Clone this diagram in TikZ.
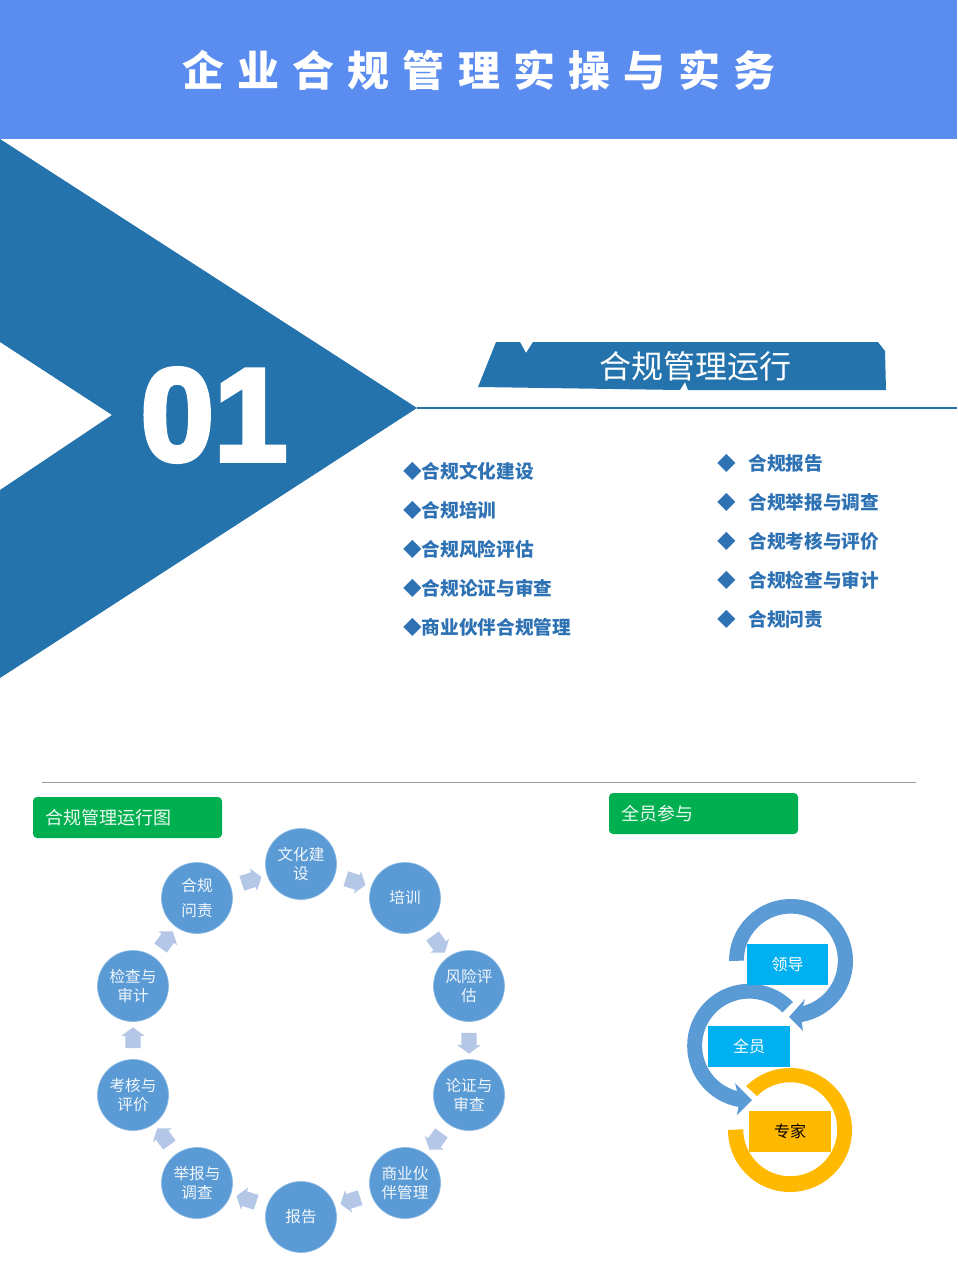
\documentclass[tikz,border=0pt]{standalone}
\usepackage{fontspec}
\usepackage{xcolor}
\usetikzlibrary{shapes.arrows}
\setmainfont{Noto Sans CJK SC}
\newfontfamily\numfont[BoldFeatures={FakeBold=3.5}]{Liberation Sans}
\newfontfamily\headfont[LetterSpace=31]{Noto Sans CJK SC}
\definecolor{headblue}{HTML}{5B8CEF}
\definecolor{deepblue}{HTML}{2473AD}
\definecolor{listblue}{HTML}{2E72B4}
\definecolor{roundblue}{HTML}{5B9BD5}
\definecolor{flowblue}{HTML}{B4C7E7}
\definecolor{okgreen}{HTML}{00B050}
\definecolor{skyblue}{HTML}{00B0F0}
\definecolor{amber}{HTML}{FFB900}
\tikzset{
	itemtext/.style={anchor=west,inner sep=0pt,text=listblue,font=\fontsize{14}{17}\selectfont\bfseries},
	roundbox/.style={circle,fill=roundblue,draw=roundblue!70!white,line width=0.5pt,minimum size=53.25pt,inner sep=0pt,align=center,text=white!92!roundblue,font=\fontsize{11.7}{14}\selectfont},
	flowarrow/.style={single arrow,fill=flowblue,minimum height=15.5pt,inner xsep=0pt,inner ysep=5.6pt,single arrow head extend=3pt,single arrow tip angle=108,sloped,allow upside down},
	tagbox/.style={rounded corners=3pt,fill=okgreen,text=white!92!okgreen,minimum height=30.75pt,text width=123.75pt,inner xsep=9pt,align=left,font=\fontsize{13.5}{16}\selectfont},
	rolebox/.style={minimum width=61pt,minimum height=30.75pt,inner sep=0pt,font=\fontsize{12}{14}\selectfont}
}
\begin{document}
\begin{tikzpicture}[x=0.75pt,y=-0.75pt]
	\useasboundingbox (0,0) rectangle (957,1280);
	\fill[headblue] (0,0) rectangle (957,139);
	\node[text=white,font=\fontsize{31.5}{36}\selectfont\headfont\bfseries] (T) at (479,70){企业合规管理实操与实务};
	\fill[deepblue] (0,139)--(417,408)--(0,678)--(0,490)--(112,415)--(0,342)--cycle;
	\coordinate (P) at (417,408);
	\coordinate (Q) at (957,408);
	\draw[deepblue,line width=1.5pt] (P)--(Q);
	\node[text=white,inner sep=0pt,font=\fontsize{99}{106}\selectfont\numfont\bfseries] (N) at (214,415){01};
	\fill[deepblue] (496,342)--(520,342)--(526,353)--(533,342)--(878,342)--(885,351)--(886,390)--(688,390)--(685,382)--(680,390)--(478,387)--cycle;
	\node[text=white,font=\fontsize{24}{28}\selectfont] (B) at (695,366){合规管理运行};
	\node[itemtext] (L1) at (403,471){◆合规文化建设};
	\node[itemtext] (L2) at (403,510){◆合规培训};
	\node[itemtext] (L3) at (403,549){◆合规风险评估};
	\node[itemtext] (L4) at (403,588){◆合规论证与审查};
	\node[itemtext] (L5) at (403,627){◆商业伙伴合规管理};
	\node[itemtext] (R1) at (717.5,463){◆\hspace{9pt}合规报告};
	\node[itemtext] (R2) at (717.5,502){◆\hspace{9pt}合规举报与调查};
	\node[itemtext] (R3) at (717.5,541){◆\hspace{9pt}合规考核与评价};
	\node[itemtext] (R4) at (717.5,580){◆\hspace{9pt}合规检查与审计};
	\node[itemtext] (R5) at (717.5,619){◆\hspace{9pt}合规问责};
	\coordinate (S) at (42,782);
	\coordinate (E) at (916,782);
	\draw[black!40,line width=0.75pt] (S)--(E);
	\node[tagbox] (G) at (127.5,817.5){合规管理运行图};
	\node[tagbox] (H) at (703.5,813.5){全员参与};
	\node[roundbox] (C0) at (301,864){文化建\\设};
	\node[roundbox] (C1) at (405,898){培训};
	\node[roundbox] (C2) at (469,986){风险评\\估};
	\node[roundbox] (C3) at (469,1095){论证与\\审查};
	\node[roundbox] (C4) at (405,1183){商业伙\\伴管理};
	\node[roundbox] (C5) at (301,1217){报告};
	\node[roundbox] (C6) at (197,1183){举报与\\调查};
	\node[roundbox] (C7) at (133,1095){考核与\\评价};
	\node[roundbox] (C8) at (133,986){检查与\\审计};
	\node[roundbox] (C9) at (197,898){合规\\[5pt]问责};
	\path (C0)--node[flowarrow] (A0) {} (C1);
	\path (C1)--node[flowarrow] (A1) {} (C2);
	\path (C2)--node[flowarrow] (A2) {} (C3);
	\path (C3)--node[flowarrow] (A3) {} (C4);
	\path (C4)--node[flowarrow] (A4) {} (C5);
	\path (C5)--node[flowarrow] (A5) {} (C6);
	\path (C6)--node[flowarrow] (A6) {} (C7);
	\path (C7)--node[flowarrow] (A7) {} (C8);
	\path (C8)--node[flowarrow] (A8) {} (C9);
	\path (C9)--node[flowarrow] (A9) {} (C0);
	\fill[amber] (728,1130) arc[start angle=180,end angle=-135,radius=62]--(757,1096) arc[start angle=-135,end angle=180,radius=47]--cycle;
	\fill[roundblue] (729,961) arc[start angle=180,end angle=440,radius=62]--(803,1031)--(789,1017)--(805,999)--(803,1006) arc[start angle=435,end angle=180,radius=47]--cycle;
	\fill[roundblue] (793,1002) arc[start angle=-45,end angle=-260,radius=62]--(737,1115)--(752,1100)--(735,1083)--(737,1091) arc[start angle=-255,end angle=-45,radius=47]--cycle;
	\node[rolebox,fill=skyblue,text=white] (K) at (787.5,964.5){领导};
	\node[rolebox,fill=skyblue,text=white] (M) at (749,1046.5){全员};
	\node[rolebox,fill=amber,text=black] (X) at (790,1131.5){专家};
\end{tikzpicture}
\end{document}
